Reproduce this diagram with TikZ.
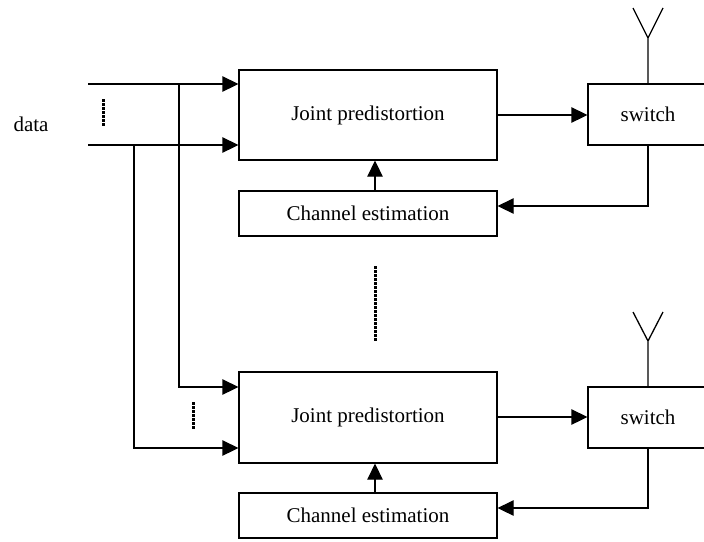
\documentclass[tikz,border=0pt]{standalone}
\usepackage{fontspec}
\setmainfont{Liberation Serif}
\usetikzlibrary{arrows.meta,calc}
\begin{document}
\begin{tikzpicture}[x=1pt,y=-1pt,
  line width=1.3pt,
  box/.style={draw,line width=1.3pt,inner sep=0pt,font=\fontsize{21}{25}\selectfont},
  arr/.style={-{Triangle[length=16pt,width=15.5pt]}},
  dotline/.style={line width=3pt,dash pattern=on 2.5pt off 1.5pt},
  lbl/.style={font=\fontsize{21}{25}\selectfont,inner sep=0pt}]
\clip (0,0) rectangle (704,541);
\fill[white] (0,0) rectangle (704,541);
% top chain
\node[box,minimum width=258pt,minimum height=90pt] (jp1) at (368,115) {Joint predistortion};
\node[box,minimum width=258pt,minimum height=45pt] (ce1) at (368,213.5) {Channel estimation};
\node[box,minimum width=120pt,minimum height=61pt] (sw1) at (648,114.5) {switch};
\coordinate (a1) at (648,38);
\coordinate (a1l) at (633,8);
\coordinate (a1r) at (663,8);
\draw (sw1.north) -- (a1) -- (a1l) (a1) -- (a1r);
\draw[arr] (jp1.east |- 0,115) -- (sw1.west |- 0,115);
\coordinate (fb1) at (648,206);
\draw[arr] (sw1.south) -- (fb1) -- (ce1.east |- fb1);
\draw[arr] (ce1.north -| 375,0) -- (jp1.south -| 375,0);
% bottom chain
\node[box,minimum width=258pt,minimum height=91pt] (jp2) at (368,417.5) {Joint predistortion};
\node[box,minimum width=258pt,minimum height=45pt] (ce2) at (368,515.5) {Channel estimation};
\node[box,minimum width=120pt,minimum height=61pt] (sw2) at (648,417.5) {switch};
\coordinate (a2) at (648,341);
\coordinate (a2l) at (633,312);
\coordinate (a2r) at (663,312);
\draw (sw2.north) -- (a2) -- (a2l) (a2) -- (a2r);
\draw[arr] (jp2.east |- 0,417) -- (sw2.west |- 0,417);
\coordinate (fb2) at (648,508);
\draw[arr] (sw2.south) -- (fb2) -- (ce2.east |- fb2);
\draw[arr] (ce2.north -| 375,0) -- (jp2.south -| 375,0);
% inputs
\node[lbl] (data) at (31,124) {data};
\coordinate (in1) at (88,84);
\coordinate (in2) at (88,145);
\draw[arr] (in1) -- (jp1.west |- in1);
\draw[arr] (in2) -- (jp1.west |- in2);
\coordinate (v1) at (179,84);
\coordinate (v1b) at (179,387);
\coordinate (v2) at (134,145);
\coordinate (v2b) at (134,448);
\draw[arr] (v1) -- (v1b) -- (jp2.west |- v1b);
\draw[arr] (v2) -- (v2b) -- (jp2.west |- v2b);
% dots
\coordinate (d1a) at (103,99); \coordinate (d1b) at (103,127);
\coordinate (d2a) at (375,266); \coordinate (d2b) at (375,341);
\coordinate (d3a) at (193,402); \coordinate (d3b) at (193,429);
\draw[dotline] (d1a) -- (d1b);
\draw[dotline] (d2a) -- (d2b);
\draw[dotline] (d3a) -- (d3b);
\end{tikzpicture}
\end{document}
